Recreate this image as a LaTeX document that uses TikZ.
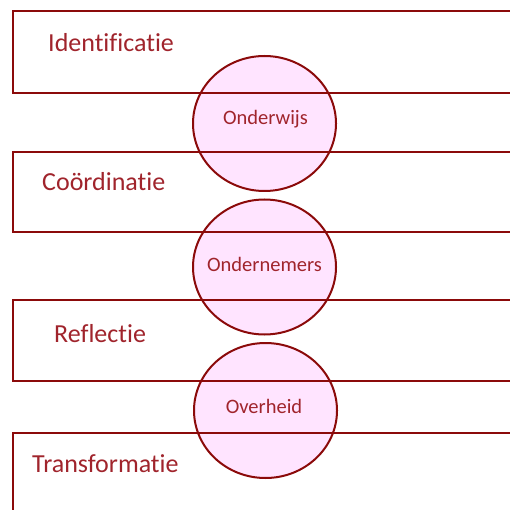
\documentclass[tikz,border=0pt]{standalone}
\usepackage{fontspec}
\setmainfont[Ligatures={NoCommon}]{Carlito}
\usetikzlibrary{shapes.geometric}
\definecolor{boxred}{RGB}{139,10,10}
\definecolor{labred}{RGB}{160,36,44}
\definecolor{pinkfill}{RGB}{255,228,255}
\tikzset{
  band/.style={draw=boxred, line width=2.6pt},
  bandlabel/.style={anchor=base west, inner sep=0pt, text=labred, font=\fontsize{26}{30}\selectfont},
  ovalfill/.style={ellipse, minimum width=143pt, minimum height=135pt, inner sep=0pt, fill=pinkfill, draw=none},
  ovalline/.style={ellipse, minimum width=143pt, minimum height=135pt, inner sep=0pt, draw=boxred, line width=2pt},
  ovallabel/.style={text=labred, inner sep=0pt, font=\fontsize{20.5}{24}\selectfont},
}
\begin{document}
\begin{tikzpicture}[x=1pt, y=-1pt]
\useasboundingbox (0,0) rectangle (510,510);
\clip (0,0) rectangle (510,510);
% circle fills
\node[ovalfill] (f1) at (264.5,123.5) {};
\node[ovalfill] (f2) at (264.5,267) {};
\node[ovalfill] (f3) at (265.5,410.5) {};
% bands (open to the right)
\draw[band] (520,11) -- (13,11) -- (13,93) -- (520,93);
\draw[band] (520,152) -- (13,152) -- (13,232) -- (520,232);
\draw[band] (520,300) -- (13,300) -- (13,381) -- (520,381);
\draw[band] (520,433) -- (13,433) -- (13,520);
% band labels
\node[bandlabel] (t1) at (48,52) {Identificatie};
\node[bandlabel] (t2) at (42,191) {Coördinatie};
\node[bandlabel] (t3) at (54,342) {Reflectie};
\node[bandlabel] (t4) at (32,472) {Transformatie};
% circle outlines
\node[ovalline] (c1) at (264.5,123.5) {};
\node[ovalline] (c2) at (264.5,267) {};
\node[ovalline] (c3) at (265.5,410.5) {};
\node[ovallabel] (l1) at (265.5,119) {Onderwijs};
\node[ovallabel] (l2) at (264.5,264) {Ondernemers};
\node[ovallabel] (l3) at (264,406) {Overheid};
\end{tikzpicture}
\end{document}
